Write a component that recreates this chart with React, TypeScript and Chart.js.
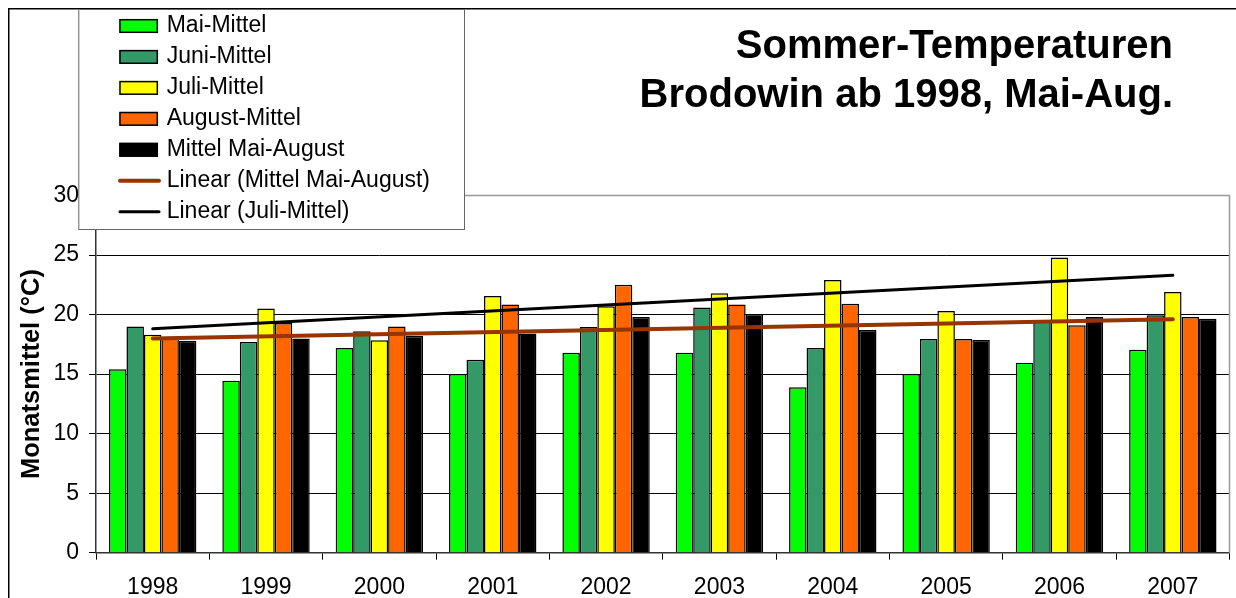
import React, { useEffect, useRef } from "react";
import { Chart, registerables } from "chart.js";

Chart.register(...registerables);

const FONT = "'Liberation Sans', Arial, Helvetica, sans-serif";

const years = ["1998", "1999", "2000", "2001", "2002", "2003", "2004", "2005", "2006", "2007"];
const maiMittel = [15.4, 14.45, 17.2, 15.0, 16.8, 16.8, 13.9, 15.0, 15.95, 17.05];
const juniMittel = [19.0, 17.7, 18.6, 16.2, 18.95, 20.6, 17.2, 17.95, 19.4, 19.95];
const juliMittel = [18.3, 20.5, 17.85, 21.55, 20.7, 21.8, 22.9, 20.3, 24.8, 21.9];
const augustMittel = [18.0, 19.3, 19.0, 20.85, 22.5, 20.85, 20.9, 17.95, 19.1, 19.8];
const mittelMaiAugust = [17.8, 18.0, 18.2, 18.4, 19.8, 20.05, 18.7, 17.87, 19.8, 19.65];
// trend line end points (first year, last year)
const trendMittelEnds = [18.0, 19.6];
const trendJuliEnds = [18.8, 23.3];

const titleLines = ["Sommer-Temperaturen", "Brodowin ab 1998, Mai-Aug."];
const yAxisTitle = "Monatsmittel (°C)";

function endsToSeries(ends: number[]): (number | null)[] {
  return years.map((_, i) => (i === 0 ? ends[0] : i === years.length - 1 ? ends[1] : null));
}

const overlayPlugin = {
  id: "overlay",
  afterDraw(chart: any) {
    const { ctx, chartArea } = chart;
    ctx.save();
    // plot area border (top & right)
    ctx.strokeStyle = "#9a9a9a";
    ctx.lineWidth = 1.5;
    ctx.beginPath();
    ctx.moveTo(chartArea.left, chartArea.top);
    ctx.lineTo(chartArea.right, chartArea.top);
    ctx.lineTo(chartArea.right, chartArea.bottom);
    ctx.stroke();

    // outer frame
    ctx.strokeStyle = "#000";
    ctx.lineWidth = 1.5;
    ctx.strokeRect(0.75, 0.75, chart.width - 1.5, chart.height - 1.5);

    // title
    ctx.fillStyle = "#000";
    ctx.font = `bold 40px ${FONT}`;
    ctx.textAlign = "right";
    ctx.textBaseline = "alphabetic";
    titleLines.forEach((t, i) => ctx.fillText(t, 1165, 50.3 + i * 48.4));

    // legend
    const lx = 70.3, ly = 1, lw = 386.7, lh = 221;
    ctx.fillStyle = "#fff";
    ctx.fillRect(lx, ly, lw, lh);
    ctx.strokeStyle = "#666";
    ctx.lineWidth = 1;
    ctx.strokeRect(lx + 0.5, ly + 0.5, lw - 1, lh - 1);
    ctx.font = `23px ${FONT}`;
    ctx.textAlign = "left";
    ctx.textBaseline = "middle";
    chart.data.datasets.forEach((ds: any, i: number) => {
      const cy = 18 + i * 30.95;
      if (ds.type === "line") {
        ctx.strokeStyle = ds.borderColor;
        ctx.lineWidth = ds.borderWidth;
        ctx.lineCap = "round";
        ctx.beginPath();
        ctx.moveTo(112, cy);
        ctx.lineTo(151, cy);
        ctx.stroke();
      } else {
        ctx.fillStyle = ds.backgroundColor;
        ctx.fillRect(111.3, cy - 7, 38.7, 14);
        ctx.strokeStyle = "#000";
        ctx.lineWidth = 1.5;
        ctx.strokeRect(112, cy - 6.3, 37.3, 12.6);
      }
      ctx.fillStyle = "#000";
      ctx.fillText(ds.label, 158.7, cy);
    });
    ctx.restore();
  },
};

export default function App() {
  const ref = useRef<HTMLCanvasElement>(null);

  useEffect(() => {
    const canvas = ref.current!;
    const barCommon = {
      type: "bar" as const,
      borderColor: "#000",
      borderWidth: 1.5,
      order: 1,
      categoryPercentage: 0.771,
      barPercentage: 1,
    };
    const lineCommon = {
      type: "line" as const,
      pointRadius: 0,
      spanGaps: true,
      fill: false,
      order: 0,
      borderCapStyle: "round" as const,
    };
    const chart = new Chart(canvas, {
      type: "bar",
      data: {
        labels: years,
        datasets: [
          { ...barCommon, label: "Mai-Mittel", data: maiMittel, backgroundColor: "#00ff00" },
          { ...barCommon, label: "Juni-Mittel", data: juniMittel, backgroundColor: "#339966" },
          { ...barCommon, label: "Juli-Mittel", data: juliMittel, backgroundColor: "#ffff00" },
          { ...barCommon, label: "August-Mittel", data: augustMittel, backgroundColor: "#ff6600" },
          { ...barCommon, label: "Mittel Mai-August", data: mittelMaiAugust, backgroundColor: "#000000" },
          {
            ...lineCommon,
            label: "Linear (Mittel Mai-August)",
            data: endsToSeries(trendMittelEnds),
            borderColor: "#993300",
            borderWidth: 4,
          },
          {
            ...lineCommon,
            label: "Linear (Juli-Mittel)",
            data: endsToSeries(trendJuliEnds),
            borderColor: "#000000",
            borderWidth: 3,
          },
        ] as any,
      },
      options: {
        responsive: false,
        animation: false,
        devicePixelRatio: 1,
        layout: { padding: { left: 0, top: 187.5, right: 10.5, bottom: 0 } },
        plugins: {
          legend: { display: false },
          title: { display: false },
          tooltip: { enabled: false },
        },
        scales: {
          x: {
            offset: true,
            grid: { offset: true, drawOnChartArea: false, tickLength: 7, tickColor: "#000" },
            border: { color: "#333", width: 1.5 },
            ticks: {
              color: "#000",
              font: { size: 23, family: FONT },
              padding: 14,
              maxRotation: 0,
              autoSkip: false,
            },
            afterFit: (s: any) => {
              s.height = 47.3;
            },
          },
          y: {
            min: 0,
            max: 30,
            ticks: { stepSize: 5, color: "#000", font: { size: 23, family: FONT }, padding: 10 },
            grid: {
              color: (c: any) => (c.tick && c.tick.value === 30 ? "rgba(0,0,0,0)" : "#000"),
              tickColor: "#000",
              tickLength: 7,
              lineWidth: 1,
            },
            border: { color: "#333", width: 1.5 },
            title: {
              display: true,
              text: yAxisTitle,
              color: "#000",
              font: { size: 25.5, weight: "bold", family: FONT },
              padding: { top: 8.7, bottom: 0 },
            },
            afterFit: (s: any) => {
              s.width = 88;
            },
          },
        },
      },
      plugins: [overlayPlugin],
    } as any);
    return () => chart.destroy();
  }, []);

  return (
    <div
      style={{
        position: "fixed",
        left: 0,
        top: 0,
        width: "100vw",
        height: "100vh",
        overflow: "hidden",
        background: "#fff",
      }}
    >
      <canvas
        ref={ref}
        width={1232}
        height={592}
        style={{ position: "absolute", left: 8, top: 8, width: 1232, height: 592 }}
      />
    </div>
  );
}
